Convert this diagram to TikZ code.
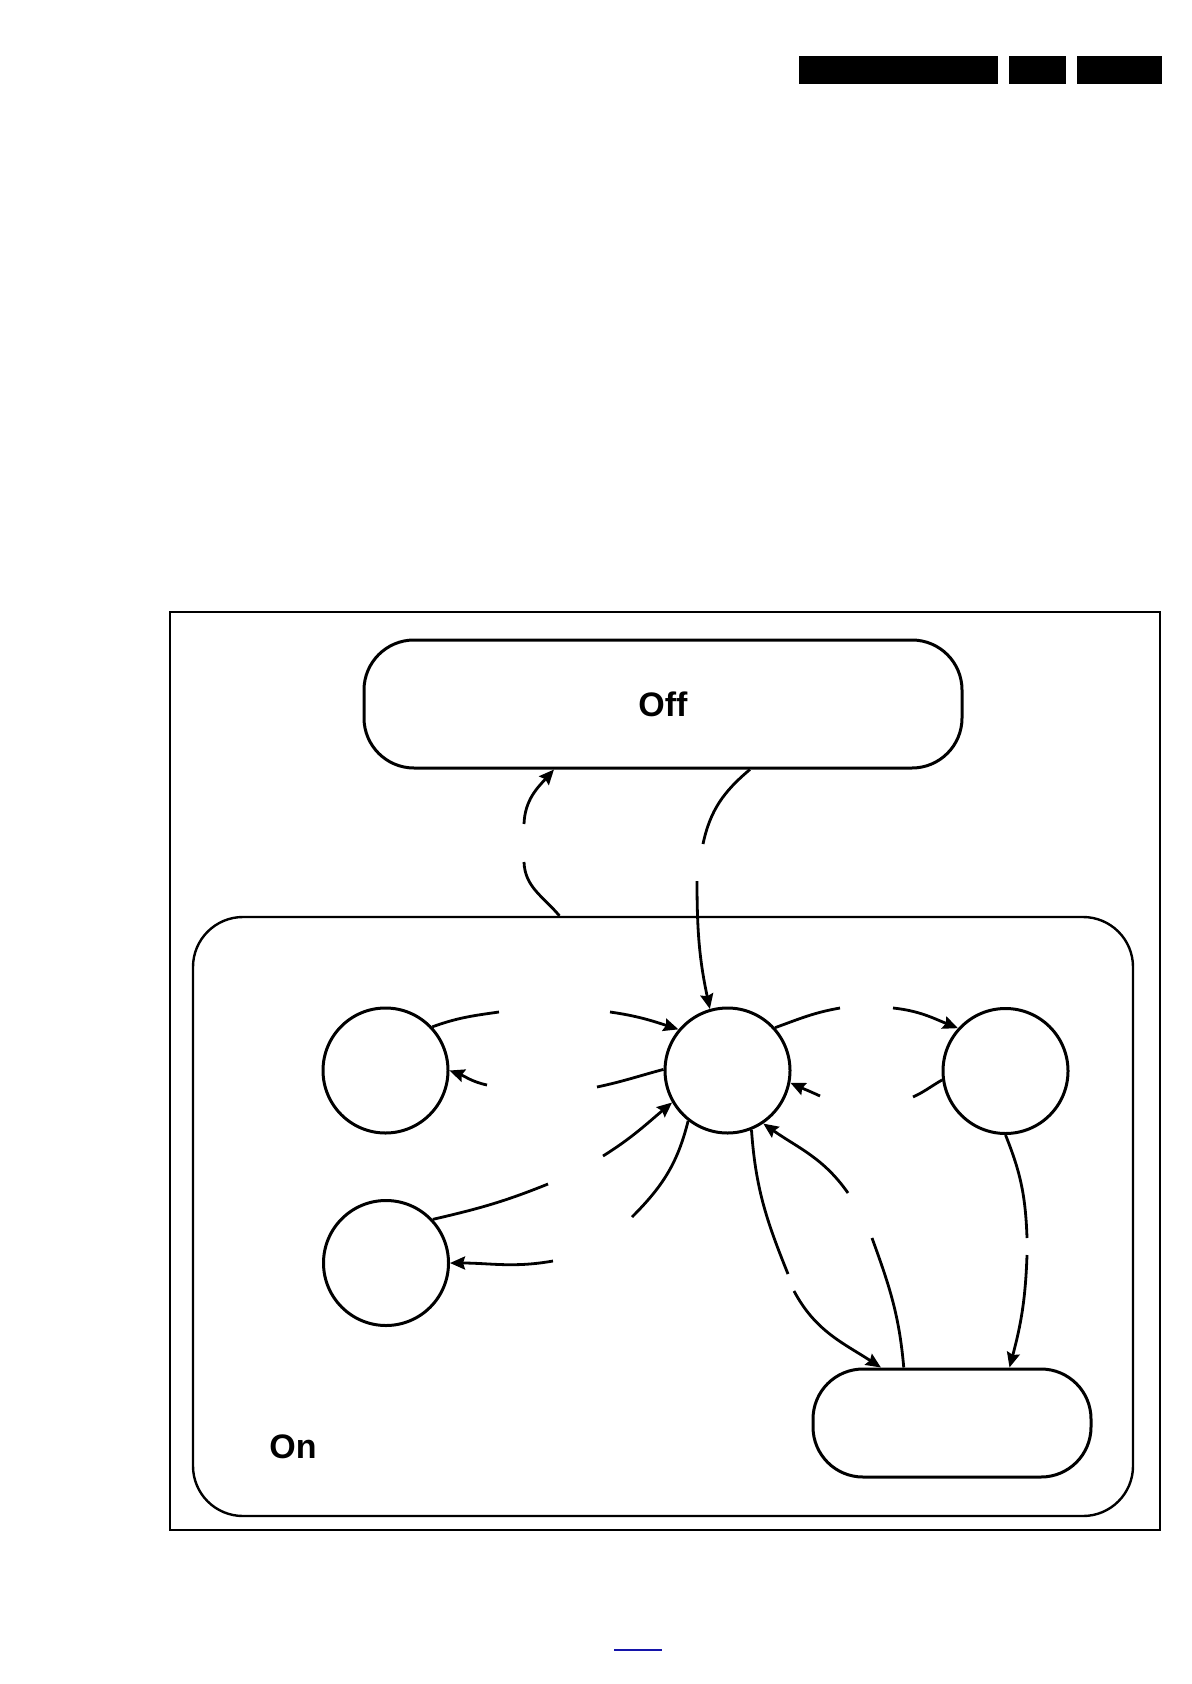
\documentclass[tikz,border=0pt]{standalone}
\usepackage{fontspec}
\newfontfamily\statefont{Liberation Sans}
\usetikzlibrary{arrows.meta}
\definecolor{linkblue}{RGB}{20,20,170}

\begin{document}
\begin{tikzpicture}[x=0.5pt,y=-0.5pt,
  box/.style={draw,rounded corners=25pt,line width=1.5pt,font=\statefont\bfseries\fontsize{17}{20}\selectfont},
  state/.style={circle,draw,line width=1.5pt,minimum size=62.5pt,inner sep=0pt},
  link/.style={line width=1.4pt},
  arr/.style={link,-{Stealth[length=7.5pt,width=6.5pt,inset=1pt]}}]
  \useasboundingbox (0,0) rectangle (1191,1684);
  % header bars and link line
  \fill (799,56) rectangle (998,84);
  \fill (1009,56) rectangle (1066,84);
  \fill (1077,56) rectangle (1162,84);
  \draw[linkblue,line width=0.6pt] (614,1650) -- (662,1650);
  % frame
  \draw[line width=1pt] (170,612) rectangle (1160,1530);
  % states
  \node[box,minimum width=299pt,minimum height=64pt] (off) at (663,704) {Off};
  \node[box,line width=1.2pt,minimum width=470pt,minimum height=299.5pt] (on) at (663,1216.5) {};
  \node[font=\statefont\bfseries\fontsize{17}{20}\selectfont] (onlabel) at (293,1447) {On};
  \node[state] (st1) at (385.5,1070.5) {};
  \node[state] (st2) at (727.5,1070.5) {};
  \node[state] (st3) at (1005.5,1071) {};
  \node[state] (st4) at (386,1263) {};
  \node[box,minimum width=139pt,minimum height=54pt] (mode) at (952,1423) {};
  % gap ends of the transitions
  \coordinate (a1) at (524,862);  \coordinate (a2) at (524,824);
  \coordinate (b1) at (703,844);  \coordinate (b2) at (697,881);
  \coordinate (c1) at (499,1012); \coordinate (c2) at (610,1012);
  \coordinate (d1) at (597,1087); \coordinate (d2) at (487,1085);
  \coordinate (e1) at (548,1184); \coordinate (e2) at (603,1156);
  \coordinate (f1) at (632,1217); \coordinate (f2) at (553,1261);
  \coordinate (g1) at (840,1008); \coordinate (g2) at (893,1008);
  \coordinate (h1) at (913,1097); \coordinate (h2) at (820,1096);
  \coordinate (i1) at (788,1274); \coordinate (i2) at (794,1291);
  \coordinate (j1) at (872,1238); \coordinate (j2) at (848,1193);
  \coordinate (k1) at (1027,1238); \coordinate (k2) at (1027,1255);
  % transitions
  \draw[link] (on.109.5) to[out=130,in=-88] (a1);
  \draw[arr] (a2) to[out=88,in=-132] (off.211);
  \draw[link] (off.323.3) to[out=220,in=78] (b1);
  \draw[arr] (b2) to[out=270,in=102] (st2.106);
  \draw[link] (st1.43) to[out=20,in=188] (c1);
  \draw[arr] (c2) to[out=-8,in=162] (st2.140);
  \draw[link] (st2.179) to[out=195,in=12] (d1);
  \draw[arr] (d2) to[out=168,in=-20] (st1.0);
  \draw[link] (st4.43) to[out=13,in=202] (e1);
  \draw[arr] (e2) to[out=32,in=220] (st2.210);
  \draw[link] (st2.232) to[out=256,in=45] (f1);
  \draw[arr] (f2) to[out=190,in=0] (st4.0);
  \draw[link] (st2.42.5) to[out=20,in=190] (g1);
  \draw[arr] (g2) to[out=-6,in=158] (st3.138);
  \draw[link] (st3.188) to[out=210,in=25] (h1);
  \draw[arr] (h2) to[out=155,in=-25] (st2.-11);
  \draw[link] (st2.292) to[out=274,in=112] (i1);
  \draw[arr] (i2) to[out=298,in=147] (mode.142.4);
  \draw[link] (mode.131.6) to[out=95,in=290] (j1);
  \draw[arr] (j2) to[out=125,in=-35] (st2.304);
  \draw[link] (st3.270) to[out=292,in=92] (k1);
  \draw[arr] (k2) to[out=268,in=75] (mode.44.5);
\end{tikzpicture}
\end{document}
